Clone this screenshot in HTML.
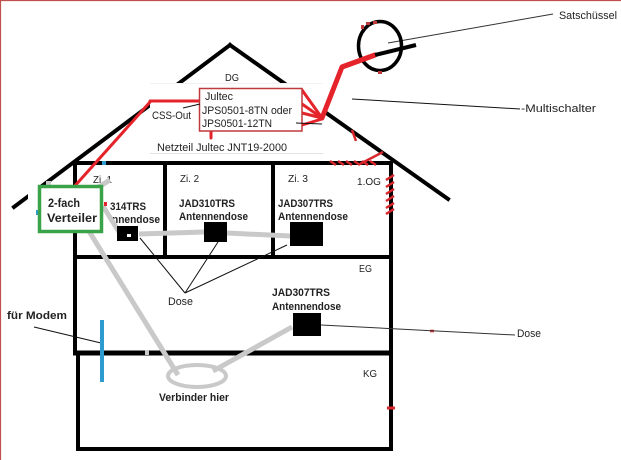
<!DOCTYPE html>
<html><head><meta charset="utf-8"><style>
html,body{margin:0;padding:0;background:#fff}
svg{display:block}
text{font-family:"Liberation Sans",sans-serif;fill:#222}
.b{font-weight:bold}
</style></head><body>
<svg width="621" height="460" viewBox="0 0 621 460" xmlns="http://www.w3.org/2000/svg">
<rect x="0" y="0" width="621" height="460" fill="#fff"/>
<line x1="0" y1="0.5" x2="621" y2="0.5" stroke="#c0504d" stroke-width="1.2"/>
<line x1="0.5" y1="0" x2="0.5" y2="460" stroke="#c0504d" stroke-width="1.2"/>

<!-- roof -->
<g stroke="#000" stroke-width="4" stroke-linecap="square" fill="none">
<line x1="14" y1="207" x2="230" y2="45"/>
<line x1="230" y1="45" x2="448" y2="199"/>
</g>
<rect x="28" y="184" width="10" height="16" fill="#fff"/>
<!-- white label area over roof -->
<rect x="150" y="83" width="173" height="70" fill="#fff"/>
<line x1="150" y1="153.5" x2="323" y2="153.5" stroke="#e2e2e2" stroke-width="1"/>
<line x1="150" y1="83.5" x2="323" y2="83.5" stroke="#f2f2f2" stroke-width="1"/>

<!-- house structure -->
<g stroke="#000" stroke-width="4" fill="none">
<line x1="73" y1="163" x2="393" y2="163"/>
<line x1="75" y1="161" x2="75" y2="355"/>
<line x1="391" y1="161" x2="391" y2="451"/>
<line x1="165" y1="163" x2="165" y2="258"/>
<line x1="273" y1="163" x2="273" y2="258"/>
<line x1="73" y1="257" x2="393" y2="257"/>
<line x1="73" y1="353" x2="393" y2="353" stroke-width="5"/>
<line x1="78" y1="353" x2="78" y2="451"/>
<line x1="76" y1="449" x2="393" y2="449"/>
</g>

<!-- red hatch marks -->
<g stroke="#d8262c" stroke-width="2.5">
<line x1="386" y1="180" x2="394" y2="175"/>
<line x1="386" y1="187" x2="394" y2="182"/>
<line x1="386" y1="194" x2="394" y2="189"/>
<line x1="386" y1="201" x2="394" y2="196"/>
<line x1="386" y1="208" x2="394" y2="203"/>
<line x1="386" y1="214" x2="394" y2="209"/>
<line x1="330" y1="161" x2="336" y2="165"/>
<line x1="338" y1="161" x2="344" y2="165"/>
<line x1="346" y1="161" x2="352" y2="165"/>
<line x1="354" y1="161" x2="360" y2="165"/>
<line x1="362" y1="161" x2="368" y2="165"/>
<line x1="370" y1="161" x2="376" y2="165"/>
<line x1="360" y1="164" x2="383" y2="152"/>
<line x1="352" y1="130" x2="356" y2="141"/>
<line x1="387" y1="408" x2="395" y2="408" stroke-width="3"/>
<line x1="430" y1="331" x2="434" y2="331" stroke-width="2.5"/>
</g>

<!-- texts in rooms -->
<text x="225" y="81" font-size="10" textLength="14" lengthAdjust="spacingAndGlyphs" fill="#333">DG</text>
<text x="93" y="183" font-size="10" textLength="19" lengthAdjust="spacingAndGlyphs" fill="#333">Zi. 1</text>
<text x="180" y="182" font-size="10" textLength="19" lengthAdjust="spacingAndGlyphs" fill="#333">Zi. 2</text>
<text x="288" y="182" font-size="10" textLength="20" lengthAdjust="spacingAndGlyphs" fill="#333">Zi. 3</text>
<text x="357" y="185" font-size="10" textLength="24" lengthAdjust="spacingAndGlyphs" fill="#333">1.OG</text>
<text x="359" y="272" font-size="10" textLength="13" lengthAdjust="spacingAndGlyphs" fill="#333">EG</text>
<text x="363" y="377" font-size="10" textLength="14" lengthAdjust="spacingAndGlyphs" fill="#333">KG</text>

<text class="b" x="110" y="210" font-size="11" textLength="36" lengthAdjust="spacingAndGlyphs">314TRS</text>
<text class="b" x="112" y="223" font-size="11" textLength="48" lengthAdjust="spacingAndGlyphs">nnendose</text>
<text class="b" x="179" y="207" font-size="11" textLength="56" lengthAdjust="spacingAndGlyphs">JAD310TRS</text>
<text class="b" x="179" y="220" font-size="11" textLength="69" lengthAdjust="spacingAndGlyphs">Antennendose</text>
<text class="b" x="278" y="207" font-size="11" textLength="55" lengthAdjust="spacingAndGlyphs">JAD307TRS</text>
<text class="b" x="278" y="220" font-size="11" textLength="70" lengthAdjust="spacingAndGlyphs">Antennendose</text>
<text class="b" x="272" y="296" font-size="11" textLength="58" lengthAdjust="spacingAndGlyphs">JAD307TRS</text>
<text class="b" x="272" y="310" font-size="11" textLength="69" lengthAdjust="spacingAndGlyphs">Antennendose</text>
<text x="168" y="305" font-size="11" textLength="25" lengthAdjust="spacingAndGlyphs">Dose</text>
<text class="b" x="7" y="319" font-size="11" textLength="60" lengthAdjust="spacingAndGlyphs">für Modem</text>
<text class="b" x="159" y="401" font-size="11" textLength="70" lengthAdjust="spacingAndGlyphs">Verbinder hier</text>

<!-- gray cables -->
<g stroke="#c9c9c9" stroke-width="5" fill="none" stroke-linecap="butt">
<line x1="97" y1="188" x2="110" y2="180"/>
<line x1="103" y1="206" x2="119" y2="232"/>
<line x1="87" y1="228" x2="178" y2="375"/>
<line x1="139" y1="234" x2="204" y2="232"/>
<line x1="227" y1="233" x2="290" y2="236"/>
<line x1="213" y1="371" x2="292" y2="327"/>
<ellipse cx="197" cy="376" rx="29" ry="11" stroke-width="4"/>
</g>
<rect x="46" y="181" width="5" height="4" fill="#c9c9c9"/>
<rect x="145" y="350" width="4" height="5" fill="#c9c9c9"/>

<!-- black boxes (Dosen) -->
<rect x="117" y="226" width="21" height="15" fill="#000"/>
<rect x="127" y="234" width="4" height="3" fill="#fff"/>
<rect x="204" y="222" width="23" height="20" fill="#000"/>
<rect x="290" y="222" width="33" height="24" fill="#000"/>
<rect x="293" y="313" width="28" height="23" fill="#000"/>

<!-- thin pointer lines -->
<g stroke="#111" stroke-width="1" fill="none">
<line x1="185" y1="293" x2="140" y2="238"/>
<line x1="185" y1="293" x2="218" y2="242"/>
<line x1="185" y1="293" x2="287" y2="245"/>
<line x1="34" y1="327" x2="101" y2="343"/>
<line x1="321" y1="325" x2="515" y2="335" stroke="#333"/>
<line x1="388" y1="43" x2="553" y2="14" stroke="#333"/>
<line x1="352" y1="99" x2="520" y2="109"/>
</g>
<text x="517" y="337" font-size="11" textLength="24" lengthAdjust="spacingAndGlyphs" fill="#333">Dose</text>
<text x="559" y="19" font-size="11" textLength="58" lengthAdjust="spacingAndGlyphs" fill="#333">Satschüssel</text>
<text x="521" y="112" font-size="11" textLength="75" lengthAdjust="spacingAndGlyphs" fill="#9e7e68">-Multischalter</text>

<!-- blue -->
<line x1="102" y1="320" x2="102" y2="382" stroke="#2e9bd0" stroke-width="4"/>
<rect x="102" y="161" width="4" height="4" fill="#2e9bd0"/>
<rect x="36" y="210" width="4" height="5" fill="#2e9bd0"/>

<!-- red feed lines -->
<g stroke="#e5232a" fill="none" stroke-linecap="round" stroke-linejoin="round">
<line x1="150" y1="102" x2="73" y2="188" stroke-width="3"/>
<line x1="150" y1="101" x2="200" y2="101" stroke-width="3"/>
<polyline points="322,118 342,67 375,55" stroke-width="5"/>
<line x1="302" y1="90" x2="322" y2="118" stroke-width="3"/>
<line x1="302" y1="104" x2="322" y2="118" stroke-width="3"/>
<line x1="302" y1="113" x2="322" y2="118" stroke-width="3"/>
<line x1="302" y1="125" x2="322" y2="119" stroke-width="3"/>
<line x1="211" y1="131" x2="211" y2="138" stroke-width="3"/>
</g>

<!-- green Verteiler box -->
<rect x="39.5" y="186.5" width="62" height="45" fill="#fff" stroke="#3aa34a" stroke-width="3.5"/>
<text class="b" x="48" y="207" font-size="12" textLength="32" lengthAdjust="spacingAndGlyphs">2-fach</text>
<text class="b" x="47" y="222" font-size="12" textLength="50" lengthAdjust="spacingAndGlyphs">Verteiler</text>
<rect x="104" y="202" width="3" height="4" fill="#e5232a"/>

<!-- Jultec box -->
<rect x="199.5" y="88.5" width="102.5" height="42.5" fill="#fff" stroke="#c0393b" stroke-width="1.5"/>
<text x="205" y="100" font-size="11" textLength="28" lengthAdjust="spacingAndGlyphs">Jultec</text>
<text x="202" y="114" font-size="11" textLength="90" lengthAdjust="spacingAndGlyphs">JPS0501-8TN oder</text>
<text x="202" y="127" font-size="11" textLength="70" lengthAdjust="spacingAndGlyphs">JPS0501-12TN</text>
<text x="152" y="119" font-size="11" textLength="39" lengthAdjust="spacingAndGlyphs">CSS-Out</text>
<text x="157" y="151" font-size="11" textLength="130" lengthAdjust="spacingAndGlyphs">Netzteil Jultec JNT19-2000</text>
<line x1="183" y1="108" x2="200" y2="104" stroke="#111" stroke-width="1"/>
<line x1="296" y1="123" x2="322" y2="124" stroke="#111" stroke-width="1"/>

<!-- satellite dish -->
<ellipse cx="380" cy="46" rx="21.5" ry="24.5" fill="none" stroke="#000" stroke-width="3.5"/>
<line x1="375" y1="55" x2="416" y2="45" stroke="#000" stroke-width="4"/>
<line x1="342" y1="67" x2="375" y2="55" stroke="#e5232a" stroke-width="5"/>
<g fill="#c0393b">
<rect x="361" y="25" width="3" height="4"/>
<rect x="366" y="22" width="4" height="3"/>
<rect x="373" y="21" width="4" height="3"/>
<rect x="378" y="71" width="4" height="3"/>
</g>
</svg>
</body></html>
